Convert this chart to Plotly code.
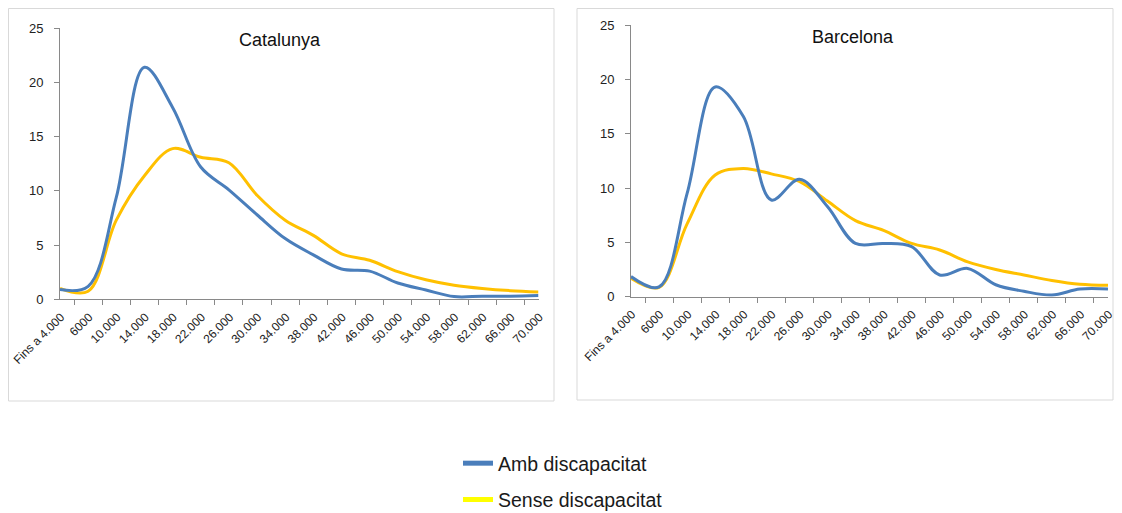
import plotly.graph_objects as go

categories = ["Fins a 4.000", "6000", "10.000", "14.000", "18.000", "22.000", "26.000",
              "30.000", "34.000", "38.000", "42.000", "46.000", "50.000", "54.000",
              "58.000", "62.000", "66.000", "70.000"]

cat_amb = [0.9, 1.2, 9.4, 21.4, 17.7, 12.2, 10.1, 7.8, 5.6, 4.1, 2.8, 2.6, 1.5, 0.86, 0.25, 0.28, 0.28, 0.34]
cat_sense = [1.0, 0.75, 7.3, 11.4, 13.9, 13.1, 12.6, 9.6, 7.3, 5.9, 4.2, 3.6, 2.55, 1.8, 1.3, 1.0, 0.8, 0.68]

bcn_amb = [1.85, 0.9, 9.5, 19.3, 16.6, 8.9, 10.8, 8.3, 4.9, 4.9, 4.6, 2.0, 2.6, 1.1, 0.5, 0.15, 0.7, 0.7]
bcn_sense = [1.7, 0.86, 6.7, 11.2, 11.8, 11.3, 10.6, 8.8, 7.0, 6.1, 4.9, 4.3, 3.2, 2.5, 2.0, 1.5, 1.15, 1.05]

titles = ["Catalunya", "Barcelona"]
series_names = ["Amb discapacitat", "Sense discapacitat"]
y_ticks = [0, 5, 10, 15, 20, 25]

# page has an 8px body margin; keep the figure inside the visible window
OFF = 8
W, H = 1122 - 2 * OFF, 513 - OFF
BLUE = "#4A7EBB"
ORANGE = "#FFC000"
LEG_YELLOW = "#FFFF00"
AXIS = "#898989"
FONT = "Liberation Sans"


def px(x):
    return (x - OFF) / W


def py(y):
    return (H - (y - OFF)) / H


fig = go.Figure()

for i, (amb, sense) in enumerate([(cat_amb, cat_sense), (bcn_amb, bcn_sense)]):
    xa = "x" if i == 0 else "x2"
    ya = "y" if i == 0 else "y2"
    fig.add_trace(go.Scatter(x=categories, y=sense, mode="lines", xaxis=xa, yaxis=ya,
                             line=dict(color=ORANGE, width=3, shape="spline", smoothing=1.0),
                             showlegend=False, hoverinfo="x+y"))
    fig.add_trace(go.Scatter(x=categories, y=amb, mode="lines", xaxis=xa, yaxis=ya,
                             line=dict(color=BLUE, width=3, shape="spline", smoothing=1.0),
                             showlegend=False, hoverinfo="x+y"))

# legend entries
fig.add_trace(go.Scatter(x=[None], y=[None], mode="lines", name=series_names[0],
                         line=dict(color=BLUE, width=5), legendgroup="a"))
fig.add_trace(go.Scatter(x=[None], y=[None], mode="lines", name=series_names[1],
                         line=dict(color=LEG_YELLOW, width=5), legendgroup="b"))

xax = dict(type="category", tickson="boundaries", ticks="outside", ticklen=5,
           tickcolor=AXIS, showline=True, linecolor=AXIS, linewidth=1, showgrid=False,
           tickangle=-45, tickfont=dict(family=FONT, size=12, color="#222222"),
           ticklabelstandoff=5, ticklabelshift=1,
           zeroline=False, fixedrange=True, automargin=False)
yax = dict(range=[0, 25], tickvals=y_ticks, ticks="outside", ticklen=5, tickcolor=AXIS,
           showline=True, linecolor=AXIS, linewidth=1, showgrid=False, zeroline=False,
           tickfont=dict(family=FONT, size=13, color="#222222"), ticklabelstandoff=8,
           fixedrange=True, automargin=False)

fig.update_layout(
    width=W, height=H,
    margin=dict(l=0, r=0, t=0, b=0, autoexpand=False),
    paper_bgcolor="white", plot_bgcolor="white",
    xaxis=dict(xax, domain=[px(60), px(538.5)], anchor="y"),
    yaxis=dict(yax, domain=[py(299.3), py(28.3)], anchor="x"),
    xaxis2=dict(xax, domain=[px(631), px(1108)], anchor="y2"),
    yaxis2=dict(yax, domain=[py(296.7), py(25)], anchor="x2"),
    legend=dict(x=px(458), y=py(444), xanchor="left", yanchor="top",
                font=dict(family=FONT, size=19.5, color="#1a1a1a"),
                tracegroupgap=8, bgcolor="rgba(0,0,0,0)"),
    showlegend=True,
)

# panel borders
fig.add_shape(type="rect", xref="paper", yref="paper", x0=px(8.5), x1=px(554), y0=py(401), y1=py(8.5),
              line=dict(color="#d9d9d9", width=1), layer="below")
fig.add_shape(type="rect", xref="paper", yref="paper", x0=px(577), x1=px(1113), y0=py(400), y1=py(8.5),
              line=dict(color="#d9d9d9", width=1), layer="below")

# titles
for t, (cx, cy) in zip(titles, [(280, 40), (853, 37)]):
    fig.add_annotation(text=t, x=px(cx), y=py(cy), xref="paper", yref="paper",
                       showarrow=False, xanchor="center", yanchor="middle",
                       font=dict(family=FONT, size=18, color="#111111"))

fig.write_html("out.html")
